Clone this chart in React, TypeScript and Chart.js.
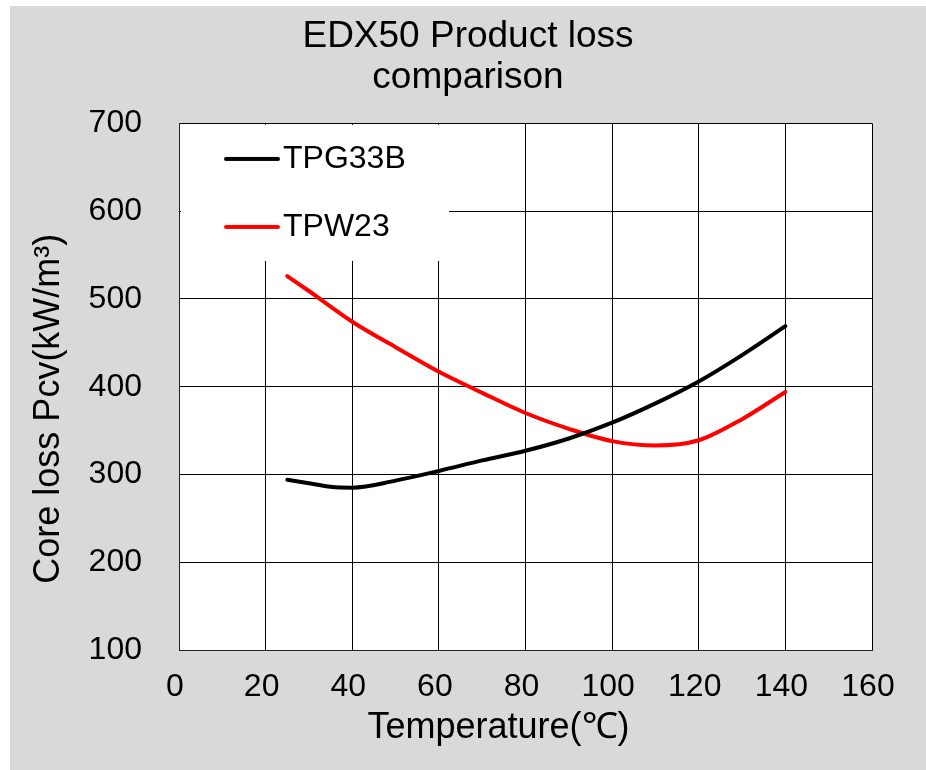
import React, { useEffect, useRef } from 'react';
import { Chart, registerables } from 'chart.js';

Chart.register(...registerables);

const FONT = "'Liberation Sans', Arial, Helvetica, sans-serif";

const TITLE_LINES = ['EDX50 Product loss', 'comparison'];
const X_TITLE = 'Temperature(℃)';
const Y_TITLE = 'Core loss Pcv(kW/m³)';
const SERIES_NAMES = ['TPG33B', 'TPW23'];
const SERIES_COLORS = ['#000000', '#ff0000'];

const TPG33B_TEMPS = [25, 30, 35, 40, 50, 60, 70, 80, 90, 100, 110, 120, 130, 140];
const TPG33B_LOSS = [294, 290, 286, 285, 293, 304, 316, 327, 341, 359, 381, 406, 436, 469];

const TPW23_TEMPS = [25, 30, 40, 50, 60, 70, 80, 90, 100, 110, 120, 130, 140];
const TPW23_LOSS = [526, 509, 474, 445, 417, 393, 370, 352, 338, 333, 339, 363, 394];

const X_TICKS = [0, 20, 40, 60, 80, 100, 120, 140, 160];
const Y_TICKS = [100, 200, 300, 400, 500, 600, 700];

function makeSwatch(color: string): HTMLCanvasElement {
  const c = document.createElement('canvas');
  c.width = 58;
  c.height = 8;
  const g = c.getContext('2d')!;
  g.strokeStyle = color;
  g.lineWidth = 4;
  g.lineCap = 'round';
  g.beginPath();
  g.moveTo(3, 4);
  g.lineTo(55, 4);
  g.stroke();
  return c;
}

const backgroundPlugin = {
  id: 'bgPanel',
  beforeDraw(chart: any) {
    const { ctx, width, height, chartArea } = chart;
    ctx.save();
    ctx.fillStyle = '#ffffff';
    ctx.fillRect(0, 0, width, height);
    ctx.fillStyle = '#d9d9d9';
    ctx.fillRect(10, 6, width - 10, height - 6);
    ctx.fillStyle = '#ffffff';
    ctx.fillRect(chartArea.left, chartArea.top, chartArea.right - chartArea.left, chartArea.bottom - chartArea.top);
    ctx.restore();
  },
};

const legendPlacePlugin = {
  id: 'legendPlace',
  afterLayout(chart: any) {
    const lg = chart.legend;
    if (!lg) return;
    const ca = chart.chartArea;
    lg.left = ca.left + 22;
    lg.top = ca.top - 16.5;
  },
};

const overlayPlugin = {
  id: 'overlay',
  afterDraw(chart: any) {
    const { ctx, chartArea: ca } = chart;
    ctx.save();
    // axis titles
    ctx.fillStyle = '#000000';
    ctx.font = `36px ${FONT}`;
    ctx.textAlign = 'center';
    ctx.textBaseline = 'middle';
    const cx = (ca.left + ca.right) / 2;
    const cy = (ca.top + ca.bottom) / 2;
    ctx.fillText(X_TITLE, cx - 27, ca.bottom + 78);
    ctx.translate(ca.left - 130, cy + 22);
    ctx.rotate(-Math.PI / 2);
    ctx.fillText(Y_TITLE, 0, 0);
    ctx.restore();

    // legend panel inside plot
    ctx.save();
    ctx.fillStyle = '#ffffff';
    ctx.fillRect(ca.left + 2, ca.top + 1.5, 268, 136);
    ctx.restore();
    if (chart.legend) chart.legend.draw();
  },
};

export default function App() {
  const ref = useRef<HTMLCanvasElement | null>(null);

  useEffect(() => {
    if (!ref.current) return;
    const swatches = SERIES_COLORS.map(makeSwatch);
    const chart = new Chart(ref.current, {
      type: 'line',
      data: {
        datasets: [
          {
            label: SERIES_NAMES[0],
            data: TPG33B_TEMPS.map((t, i) => ({ x: t, y: TPG33B_LOSS[i] })),
            borderColor: SERIES_COLORS[0],
            backgroundColor: SERIES_COLORS[0],
            borderWidth: 4,
            pointRadius: 0,
            pointStyle: swatches[0] as any,
            cubicInterpolationMode: 'monotone',
            borderCapStyle: 'round',
            fill: false,
          },
          {
            label: SERIES_NAMES[1],
            data: TPW23_TEMPS.map((t, i) => ({ x: t, y: TPW23_LOSS[i] })),
            borderColor: SERIES_COLORS[1],
            backgroundColor: SERIES_COLORS[1],
            borderWidth: 4,
            pointRadius: 0,
            pointStyle: swatches[1] as any,
            cubicInterpolationMode: 'monotone',
            borderCapStyle: 'round',
            fill: false,
          },
        ],
      },
      options: {
        animation: false,
        responsive: false,
        devicePixelRatio: 1,
        events: [],
        layout: { padding: { left: 64, right: 54, top: 0, bottom: 0 } },
        plugins: {
          title: {
            display: true,
            text: TITLE_LINES,
            color: '#000000',
            font: { family: FONT, size: 37, weight: 'normal', lineHeight: 1.12 },
            padding: { top: 16, bottom: 24.5 },
          },
          legend: {
            display: true,
            position: 'chartArea',
            align: 'start',
            labels: {
              usePointStyle: true,
              boxWidth: 30,
              padding: 36,
              color: '#000000',
              font: { family: FONT, size: 32 },
            },
          },
          tooltip: { enabled: false },
        },
        scales: {
          x: {
            type: 'linear',
            min: X_TICKS[0],
            max: X_TICKS[X_TICKS.length - 1],
            afterBuildTicks: (s: any) => {
              s.ticks = X_TICKS.map((v) => ({ value: v }));
            },
            ticks: {
              color: '#000000',
              font: { family: FONT, size: 32 },
              padding: 18,
              labelOffset: -4,
              maxRotation: 0,
              autoSkip: false,
            },
            grid: { color: '#000000', lineWidth: 1, drawTicks: false },
            border: { color: '#222222', width: 1 },
            afterFit: (s: any) => {
              s.height = 120;
            },
          },
          y: {
            type: 'linear',
            min: Y_TICKS[0],
            max: Y_TICKS[Y_TICKS.length - 1],
            afterBuildTicks: (s: any) => {
              s.ticks = Y_TICKS.map((v) => ({ value: v }));
            },
            ticks: {
              color: '#000000',
              font: { family: FONT, size: 32 },
              padding: 37,
              autoSkip: false,
            },
            grid: { color: '#000000', lineWidth: 1, drawTicks: false },
            border: { color: '#222222', width: 1 },
            afterFit: (s: any) => {
              s.width = 115;
            },
          },
        },
      },
      plugins: [backgroundPlugin, legendPlacePlugin, overlayPlugin],
    } as any);
    return () => chart.destroy();
  }, []);

  return (
    <div style={{ position: 'absolute', left: 0, top: 0, width: 926, height: 770 }}>
      <canvas ref={ref} width={926} height={770} style={{ display: 'block', width: 926, height: 770 }} />
    </div>
  );
}
